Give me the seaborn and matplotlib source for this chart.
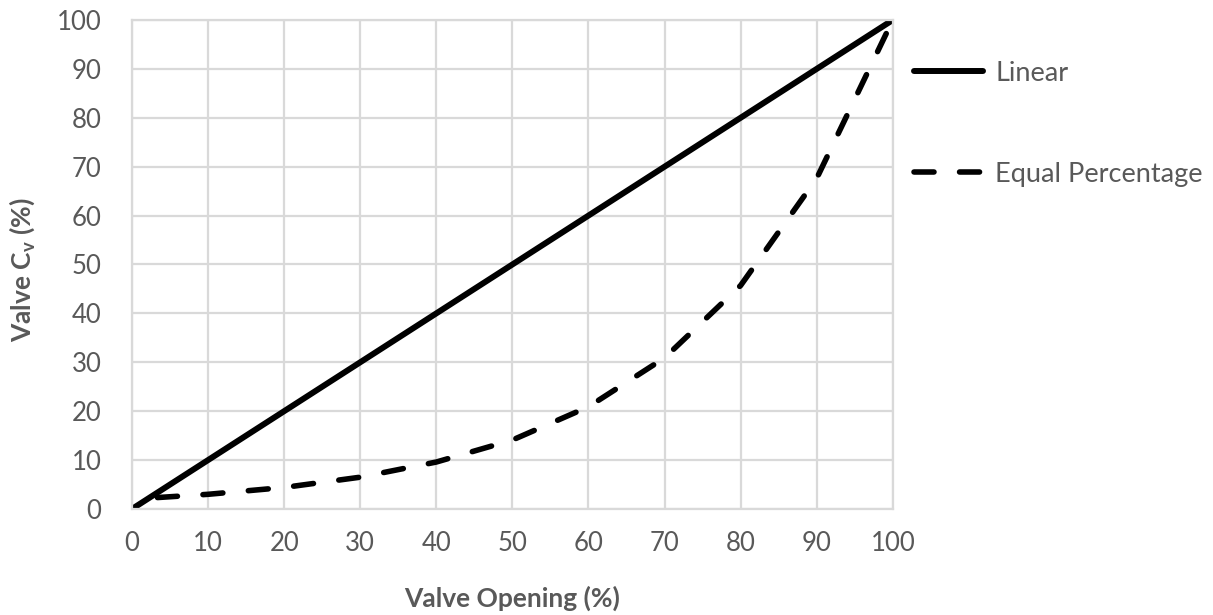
import matplotlib
matplotlib.use("Agg")
import matplotlib.pyplot as plt
from matplotlib.lines import Line2D
import seaborn as sns
import pandas as pd

opening = [0, 10, 20, 30, 40, 50, 60, 70, 80, 90, 100]
linear = [0, 10, 20, 30, 40, 50, 60, 70, 80, 90, 100]
equal_pct = [2.0, 3.0, 4.4, 6.5, 9.6, 14.1, 20.9, 30.9, 45.7, 67.6, 100]
x_ticks = [0, 10, 20, 30, 40, 50, 60, 70, 80, 90, 100]
y_ticks = [0, 10, 20, 30, 40, 50, 60, 70, 80, 90, 100]

sns.set_style("white")
plt.rcParams['font.family'] = ['Lato', 'DejaVu Sans']
plt.rcParams['mathtext.fontset'] = 'custom'
plt.rcParams['mathtext.rm'] = 'Lato'
plt.rcParams['mathtext.bf'] = 'Lato:bold'

df = pd.DataFrame({
    "opening": opening * 2,
    "cv": linear + equal_pct,
    "series": ["Linear"] * len(opening) + ["Equal Percentage"] * len(opening),
})

fig = plt.figure(figsize=(12.13, 6.15), dpi=100)
ax = fig.add_axes([0.1088, 0.1724, 0.736 - 0.1088, 0.9675 - 0.1724])

grey = "#595959"
gridc = "#d9d9d9"
fs_tick = 18.5
fs_leg = 19.5

sns.lineplot(data=df[df.series == "Linear"], x="opening", y="cv", ax=ax,
             color="black", linewidth=4.3, solid_capstyle="round")
sns.lineplot(data=df[df.series == "Equal Percentage"], x="opening", y="cv", ax=ax,
             color="black", linewidth=4.0,
             linestyle=(3.6, (3.6, 4.6)), dash_capstyle="round")

ax.set_xlim(0, 100)
ax.set_ylim(0, 100)
ax.set_xticks(x_ticks)
ax.set_yticks(y_ticks)
ax.grid(True, color=gridc, linewidth=1.6)
ax.set_axisbelow(True)
for s in ax.spines.values():
    s.set_color(gridc)
    s.set_linewidth(1.6)
ax.tick_params(axis="both", length=0, labelsize=fs_tick, labelcolor=grey)
ax.tick_params(axis="y", pad=22)
ax.tick_params(axis="x", pad=16)

ax.set_xlabel("Valve Opening (%)", fontsize=19, fontweight="bold", color=grey)
ax.set_ylabel(r"Valve C$_{\mathbf{v}}$ (%)", fontsize=19, fontweight="bold", color=grey)
ax.xaxis.set_label_coords(0.5, -0.156)
ax.yaxis.set_label_coords(-0.125, 0.49)

handles = [
    Line2D([], [], color="black", linewidth=4.3, solid_capstyle="round"),
    Line2D([], [], color="black", linewidth=4.0, linestyle=(0, (3.6, 4.6)),
           dash_capstyle="round"),
]
labels = ["Linear", "Equal Percentage"]
leg = fig.legend(handles, labels, loc="upper left", bbox_to_anchor=(0.7535, 0.901),
                 frameon=False, fontsize=fs_leg, handlelength=2.55, labelspacing=2.8,
                 handletextpad=0.45, borderpad=0, borderaxespad=0)
for t in leg.get_texts():
    t.set_color(grey)

fig.savefig("out.png", dpi=100)
